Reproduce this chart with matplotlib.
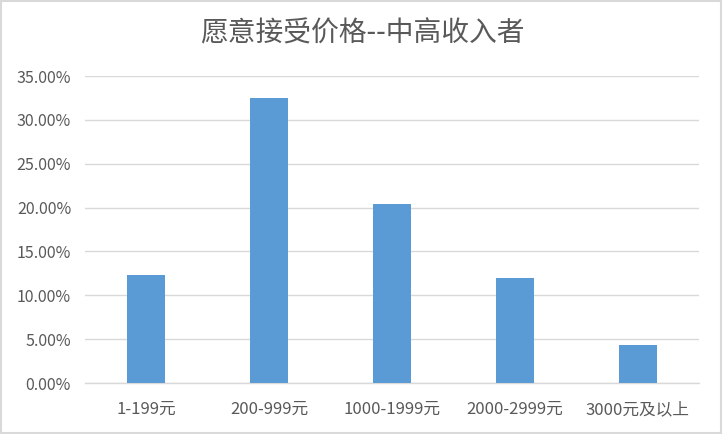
import matplotlib
matplotlib.use("Agg")
import matplotlib.pyplot as plt
from matplotlib.patches import Rectangle
from matplotlib.ticker import FuncFormatter, MultipleLocator

plt.rcParams['font.family'] = ['Noto Sans CJK SC', 'DejaVu Sans']

# data
categories = ['1-199元', '200-999元', '1000-1999元', '2000-2999元', '3000元及以上']
shares = [12.32, 32.45, 20.40, 11.98, 4.36]  # percent
title = '愿意接受价格--中高收入者'

fig = plt.figure(figsize=(7.24, 4.34), dpi=100)
ax = fig.add_axes([85 / 724, 51 / 434, 614 / 724, 307 / 434])

x = list(range(len(categories)))
ax.bar(x, shares, width=0.31, color='#5B9BD5', zorder=3)

ax.set_xlim(-0.5, len(categories) - 0.5)
ax.set_ylim(0, 35)
ax.yaxis.set_major_locator(MultipleLocator(5))
ax.yaxis.set_major_formatter(FuncFormatter(lambda v, p: f'{v:.2f}%'))
ax.set_xticks(x)
ax.set_xticklabels(categories)

ax.grid(axis='y', color='#d9d9d9', linewidth=1.0, zorder=0)
for s in ['top', 'right', 'left']:
    ax.spines[s].set_visible(False)
ax.spines['bottom'].set_color('#d9d9d9')
ax.spines['bottom'].set_linewidth(1.0)
ax.tick_params(axis='y', length=0, colors='#595959', labelsize=11.5, pad=10)
ax.tick_params(axis='x', length=0, colors='#595959', labelsize=12, pad=13)

fig.text(0.5, 1 - 33 / 434, title, ha='center', va='center',
         fontsize=20, color='#595959')

# light frame round the whole chart
fig.patches.append(Rectangle((0.002, 0.003), 0.994, 0.994, transform=fig.transFigure,
                             fill=False, edgecolor='#d9d9d9', linewidth=1.5))

fig.savefig('out.png', dpi=100)
